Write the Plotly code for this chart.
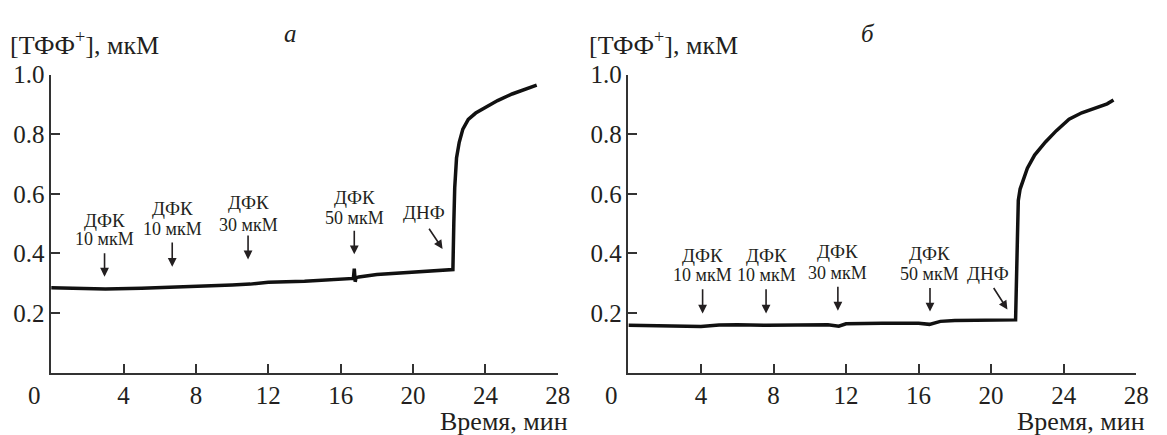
import plotly.graph_objects as go

# ---- data ----
time_a = [0, 2, 3, 5, 6.7, 8, 10, 11, 12, 14, 16, 16.7, 16.75, 16.8, 16.85, 17, 18, 20, 22.2,
          22.25, 22.3, 22.4, 22.55, 22.75, 23.05, 23.46, 24.06, 24.67, 25.47, 26.28, 26.83]
conc_a = [0.285, 0.283, 0.281, 0.283, 0.286, 0.289, 0.294, 0.297, 0.303, 0.307, 0.313, 0.316, 0.349, 0.305, 0.318, 0.321, 0.329, 0.338, 0.346,
          0.5, 0.62, 0.72, 0.773, 0.817, 0.85, 0.871, 0.893, 0.913, 0.935, 0.952, 0.965]

time_b = [0, 2, 4, 5, 6, 7.6, 9, 11, 11.6, 12, 14, 16, 16.6, 17.2, 18, 20, 21.35,
          21.45, 21.5, 21.6, 21.8, 22.0, 22.4, 23.0, 23.6, 24.3, 25.0, 25.8, 26.4, 26.75]
conc_b = [0.159, 0.156, 0.155, 0.160, 0.161, 0.159, 0.161, 0.161, 0.156, 0.164, 0.166, 0.166, 0.162, 0.172, 0.175, 0.177, 0.177,
          0.447, 0.578, 0.616, 0.653, 0.686, 0.73, 0.774, 0.812, 0.85, 0.872, 0.89, 0.902, 0.915]

x_ticks = [4, 8, 12, 16, 20, 24, 28]
y_ticks = [0.2, 0.4, 0.6, 0.8, 1.0]
y_tick_text = ["0.2", "0.4", "0.6", "0.8", "1.0"]

# additions: name line, dose line, x, y of name, y of dose, arrow tail y, arrow head y
add_name = ["ДФК", "ДФК", "ДФК", "ДФК"]
add_dose = ["10 мкМ", "10 мкМ", "30 мкМ", "50 мкМ"]
add_x_a = [2.95, 6.69, 10.88, 16.75]
name_y_a = [0.512, 0.550, 0.572, 0.588]
dose_y_a = [0.447, 0.482, 0.496, 0.520]
tail_y_a = [0.406, 0.442, 0.465, 0.481]
head_y_a = [0.322, 0.355, 0.380, 0.397]

add_x_b = [4.09, 7.59, 11.55, 16.63]
name_y_b = [0.393, 0.393, 0.406, 0.400]
dose_y_b = [0.328, 0.328, 0.333, 0.332]
tail_y_b = [0.2845, 0.2845, 0.293, 0.289]
head_y_b = [0.198, 0.198, 0.208, 0.205]

dnf_text = "ДНФ"
dnf_a = dict(tx=20.59, ty=0.539, ax=20.83, ay=0.488, hx=21.63, hy=0.415)
dnf_b = dict(tx=19.85, ty=0.334, ax=20.09, ay=0.289, hx=20.9, hy=0.212)

panel_letters = ["а", "б"]
y_title = "[ТФФ<sup>+</sup>], мкМ"
x_title = "Время, мин"

FONT = "Liberation Serif"
TXT = "#231f20"

fig = go.Figure()
fig.add_trace(go.Scatter(x=time_a, y=conc_a, mode="lines", line=dict(color="#111", width=3.5),
                         xaxis="x", yaxis="y", showlegend=False))
fig.add_trace(go.Scatter(x=time_b, y=conc_b, mode="lines", line=dict(color="#111", width=3.5),
                         xaxis="x2", yaxis="y2", showlegend=False))

ydom = [0.1478, 0.854]
axis_common = dict(showgrid=False, zeroline=False, showline=True, linecolor="#333", linewidth=1.5,
                   ticks="inside", ticklen=9, tickwidth=1.5, tickcolor="#333",
                   tickfont=dict(family=FONT, size=25, color=TXT))
fig.update_layout(
    width=1167, height=435, margin=dict(l=0, r=0, t=0, b=0),
    paper_bgcolor="white", plot_bgcolor="white",
    xaxis=dict(domain=[0.0443, 0.483], range=[0, 28], tickvals=x_ticks, anchor="y", **axis_common),
    yaxis=dict(domain=ydom, range=[0, 1.0], tickvals=y_ticks, ticktext=y_tick_text, anchor="x", **axis_common),
    xaxis2=dict(domain=[0.5441, 0.9837], range=[0, 28], tickvals=x_ticks, anchor="y2", **axis_common),
    yaxis2=dict(domain=ydom, range=[0, 1.0], tickvals=y_ticks, ticktext=y_tick_text, anchor="x2", **axis_common),
)

ann = []
def panel(xr, yr, xs, ny, dy, ty, hy, dnf, letter, title_x, xtitle_right):
    for name, dose, x, a, b, t, h in zip(add_name, add_dose, xs, ny, dy, ty, hy):
        ann.append(dict(x=x, y=a, xref=xr, yref=yr, text=name, showarrow=False,
                        font=dict(family=FONT, size=19, color=TXT), xanchor="center", yanchor="middle"))
        ann.append(dict(x=x, y=b, xref=xr, yref=yr, text=dose, showarrow=False,
                        font=dict(family=FONT, size=18, color=TXT), xanchor="center", yanchor="middle"))
        ann.append(dict(x=x, y=h, xref=xr, yref=yr, ax=x, ay=t, axref=xr, ayref=yr, text="",
                        showarrow=True, arrowhead=2, arrowsize=1.1, arrowwidth=1.6, arrowcolor=TXT))
    ann.append(dict(x=dnf["tx"], y=dnf["ty"], xref=xr, yref=yr, text=dnf_text, showarrow=False,
                    font=dict(family=FONT, size=19, color=TXT), xanchor="center", yanchor="middle"))
    ann.append(dict(x=dnf["hx"], y=dnf["hy"], xref=xr, yref=yr, ax=dnf["ax"], ay=dnf["ay"], axref=xr, ayref=yr,
                    text="", showarrow=True, arrowhead=2, arrowsize=1.1, arrowwidth=1.6, arrowcolor=TXT))
    ann.append(dict(x=0, y=0, xref=xr, yref=yr, text="0", showarrow=False, xshift=-17, yshift=-23,
                    font=dict(family=FONT, size=25, color=TXT), xanchor="center", yanchor="middle"))
    ann.append(dict(x=13.2, y=1 - 21 / 435, xref=xr, yref="paper", text="<i>" + letter + "</i>", showarrow=False,
                    font=dict(family=FONT, size=25, color=TXT), xanchor="center", yanchor="middle"))
    ann.append(dict(x=title_x, y=1 - 31 / 435, xref="paper", yref="paper", text=y_title, showarrow=False,
                    font=dict(family=FONT, size=26, color=TXT), xanchor="left", yanchor="middle"))
    ann.append(dict(x=xtitle_right, y=1 - 421 / 435, xref="paper", yref="paper", text=x_title, showarrow=False,
                    font=dict(family=FONT, size=26, color=TXT), xanchor="right", yanchor="middle"))

panel("x", "y", add_x_a, name_y_a, dose_y_a, tail_y_a, head_y_a, dnf_a, panel_letters[0], 8 / 1167, 576 / 1167)
panel("x2", "y2", add_x_b, name_y_b, dose_y_b, tail_y_b, head_y_b, dnf_b, panel_letters[1], 593 / 1167, 1159 / 1167)

fig.update_layout(annotations=ann)
fig.write_html("out.html", config={"displayModeBar": False},
               post_script="document.body.style.margin='0';document.body.style.overflow='hidden';")
